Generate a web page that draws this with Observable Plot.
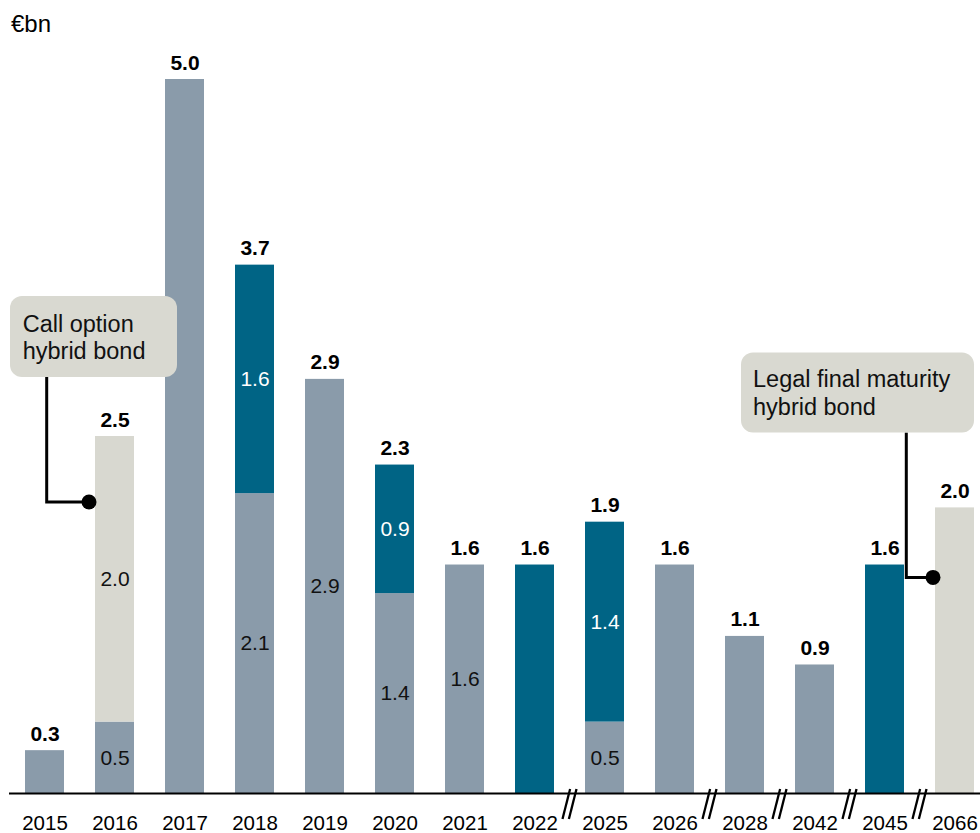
<!DOCTYPE html>
<html><head><meta charset="utf-8">
<script src="https://cdn.jsdelivr.net/npm/d3@7"></script>
<script src="https://cdn.jsdelivr.net/npm/@observablehq/plot@0.6"></script>
<style>
html,body{margin:0;padding:0;background:#fff;}
#unit{height:40px;box-sizing:border-box;padding:12px 0 0 11px;font:24px "Liberation Sans",Arial,sans-serif;line-height:1;color:#000;}
#chart svg{display:block;}
</style></head><body>
<div id="unit">€bn</div>
<div id="chart"></div>
<script>
// ---- data ----
const years = ["2015","2016","2017","2018","2019","2020","2021","2022","2025","2026","2028","2042","2045","2066"];
const seriesNames = ["Bonds","Other","Hybrid bond"];
const bondValues   = [0.3, 0.5, 5.0, 2.1, 2.9, 1.4, 1.6, 0,   0.5, 1.6, 1.1, 0.9, 0,   0];
const otherValues  = [0,   0,   0,   1.6, 0,   0.9, 0,   1.6, 1.4, 0,   0,   0,   1.6, 0];
const hybridValues = [0,   2.0, 0,   0,   0,   0,   0,   0,   0,   0,   0,   0,   0,   2.0];
const innerLabelYears = ["2016","2018","2019","2020","2021","2025"];
const axisBreaksBefore = ["2025","2028","2042","2045","2066"];
const calloutYears = ["2016","2066"];
const calloutTexts = [["Call option","hybrid bond"],["Legal final maturity","hybrid bond"]];

// ---- derived tables ----
const seriesValues = [bondValues, otherValues, hybridValues];
const rows = [];
years.forEach((yr, i) => seriesNames.forEach((s, k) => rows.push({year: yr, series: s, value: seriesValues[k][i]})));
const totals = years.map((yr, i) => bondValues[i] + otherValues[i] + hybridValues[i]);
const totalRows = years.map((yr, i) => ({year: yr, total: totals[i]}));
const fmt = d3.format(".1f");
const showInner = d => innerLabelYears.includes(d.year) && d.value > 0;

const colors = ["#8a9baa", "#006485", "#d8d8d0"];
const FONT = '"Liberation Sans", Arial, Helvetica, sans-serif';

// callout layout (pixel offsets relative to bar left edge / anchor point)
const calloutLayout = [
  {dotDx: -6, dotDy: 66, lineDx: -48.3, boxDx: -85, boxW: 167, boxDy: -206, boxH: 81, textDx: 12.7, base1: 36, base2: 63},
  {dotDx: -2, dotDy: 70, lineDx: -28.7, boxDx: -194, boxW: 233, boxDy: -225, boxH: 80, textDx: 12, base1: 34.5, base2: 62.5}
];

function annotations(index, scales) {
  const x = scales.x, y = scales.y;
  const bw = x.bandwidth();
  const g = d3.create("svg:g").attr("text-anchor", "start");
  const y0 = y(0);
  for (const yr of axisBreaksBefore) {
    const i = years.indexOf(yr);
    const cx = (x(years[i - 1]) + bw + x(yr)) / 2;
    const cy = y0 + 11;
    for (const off of [-3.2, 3.2]) {
      g.append("line")
        .attr("x1", cx + off - 3.8).attr("y1", cy + 15)
        .attr("x2", cx + off + 3.8).attr("y2", cy - 15)
        .attr("stroke", "#000").attr("stroke-width", 2.3);
    }
  }
  calloutYears.forEach((yr, k) => {
    const L = calloutLayout[k];
    const i = years.indexOf(yr);
    const left = x(yr);
    const dotY = y(totals[i]) + L.dotDy;
    const dotX = left + L.dotDx;
    const lineX = left + L.lineDx;
    const bx = left + L.boxDx, by = dotY + L.boxDy;
    g.append("path")
      .attr("d", `M${lineX},${by + L.boxH}V${dotY}H${dotX}`)
      .attr("fill", "none").attr("stroke", "#000").attr("stroke-width", 3);
    g.append("circle").attr("cx", dotX).attr("cy", dotY).attr("r", 7.5).attr("fill", "#000");
    g.append("rect").attr("x", bx).attr("y", by).attr("width", L.boxW).attr("height", L.boxH)
      .attr("rx", 12).attr("ry", 12).attr("fill", "#d9d9d1");
    const t = g.append("text").attr("font-size", 23.5).attr("font-family", FONT)
      .attr("fill", "#111").attr("text-anchor", "start");
    t.append("tspan").attr("x", bx + L.textDx).attr("y", by + L.base1).text(calloutTexts[k][0]);
    t.append("tspan").attr("x", bx + L.textDx).attr("y", by + L.base2).text(calloutTexts[k][1]);
  });
  return g.node();
}

const chart = Plot.plot({
  width: 980,
  height: 793,
  marginLeft: 9,
  marginRight: 0,
  marginTop: 0,
  marginBottom: 40,
  style: {fontFamily: FONT, fontSize: "21px", color: "#000", background: "#fff", overflow: "visible"},
  x: {type: "band", domain: years, range: [9.25, 989.25], paddingInner: 0.45, paddingOuter: 0.225, align: 0.5, label: null, axis: null},
  y: {domain: [0, 5], range: [753, 39], axis: null},
  color: {domain: seriesNames, range: colors},
  marks: [
    Plot.barY(rows, {x: "year", y: "value", fill: "series", order: seriesNames}),
    Plot.ruleY([0], {stroke: "#000", strokeWidth: 2}),
    Plot.axisX({tickSize: 0, tickPadding: 22, fontSize: 20.5, label: null, fill: "#000"}),
    Plot.text(rows, Plot.stackY({x: "year", y: "value", z: "series", order: seriesNames,
      text: d => (d.series === "Other" && showInner(d)) ? fmt(d.value) : null,
      fill: "#fff", fontSize: 21})),
    Plot.text(rows, Plot.stackY({x: "year", y: "value", z: "series", order: seriesNames,
      text: d => (d.series !== "Other" && showInner(d)) ? fmt(d.value) : null,
      fill: "#111", fontSize: 21})),
    Plot.text(totalRows, {x: "year", y: "total", text: d => fmt(d.total), lineAnchor: "bottom", dy: -10,
      fontWeight: "bold", fontSize: 21, fill: "#000"}),
    annotations
  ]
});
document.getElementById("chart").appendChild(chart);
</script></body></html>
